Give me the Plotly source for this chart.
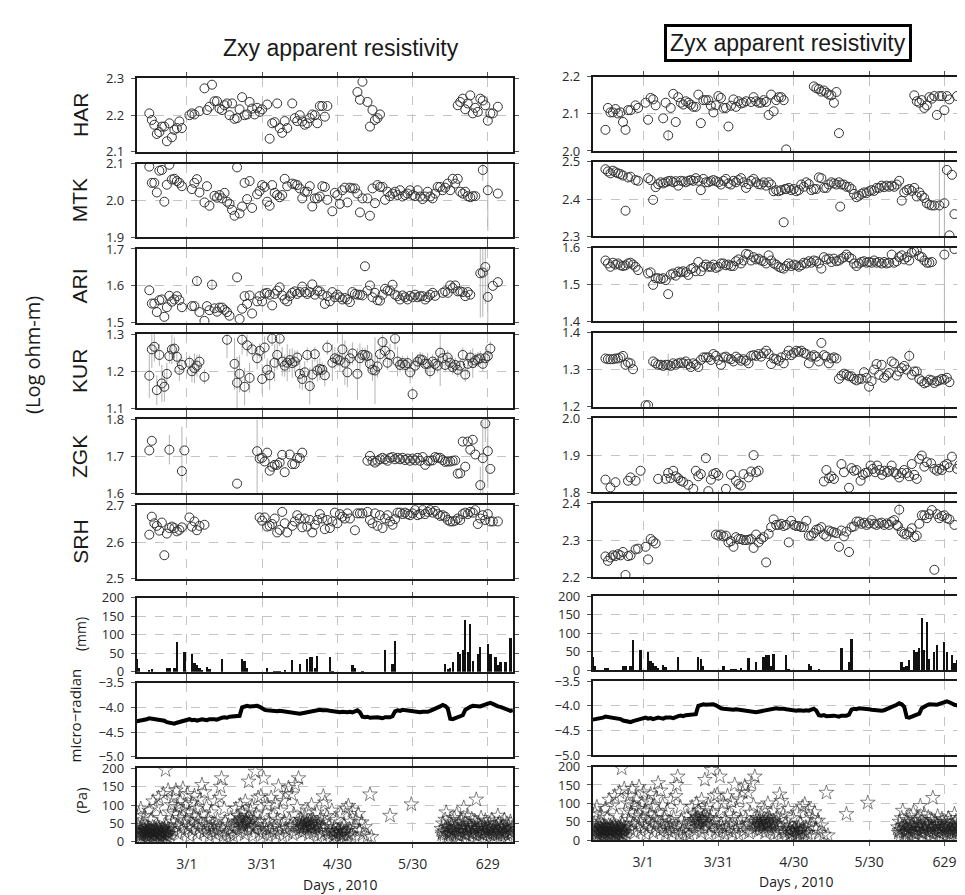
import plotly.graph_objects as go

# ---------------- DATA ----------------
tick_days = [60, 90, 120, 150, 180]
tick_text = ["3/1", "3/31", "4/30", "5/30", "629"]
stations = ["HAR", "MTK", "ARI", "KUR", "ZGK", "SRH"]

# Zxy apparent resistivity (day of year, log ohm-m, error)
zxy_har = [(45,2.205),(46,2.187),(47,2.174),(48,2.149),(49,2.154),(50,2.169),(51,2.169),(52,2.129),(53,2.178),(54,2.140),(55,2.160),(56,2.165),(57,2.183),(58,2.165),(61,2.200),(62,2.205),(63,2.202),(65,2.211),(67,2.273),(68,2.214),(69,2.223),(70,2.283),(71,2.238),(72,2.238),(73,2.218),(74,2.214),(75,2.227),(76,2.232),(77,2.200),(78,2.232),(79,2.190),(80,2.192),(81,2.216),(82,2.249),(83,2.200),(84,2.202),(85,2.236),(86,2.218),(87,2.202),(88,2.220),(89,2.209),(90,2.216),(92,2.229),(93,2.136),(94,2.178),(95,2.181),(96,2.232),(97,2.165),(98,2.152),(99,2.184),(100,2.165),(102,2.232),(103,2.192),(104,2.184),(105,2.200),(106,2.183),(107,2.174),(108,2.178),(109,2.192),(110,2.202),(111,2.200),(112,2.178),(113,2.225),(114,2.225),(115,2.196),(116,2.225),(128,2.263),(129,2.242),(130,2.291),(132,2.236),(133,2.169),(134,2.214),(135,2.187),(136,2.192),(137,2.202),(168,2.227),(169,2.236),(170,2.245),(171,2.216),(172,2.232),(173,2.254),(174,2.205),(175,2.220),(176,2.209),(177,2.245),(178,2.240),(179,2.227),(180,2.185),(181,2.205),(182,2.205),(184,2.223)]
zxy_mtk = [(45,2.092),(46,2.048),(47,2.048),(48,2.022),(49,2.081),(50,2.083),(51,1.997),(52,2.043),(53,2.097),(54,2.057),(55,2.059),(56,2.053),(57,2.048),(58,2.039),(62,2.031),(63,2.048),(64,2.058),(65,2.022),(67,1.995),(68,2.039),(69,1.986),(71,2.013),(72,2.008),(73,2.015),(74,2.006),(75,2.021),(76,1.997),(77,1.991),(78,1.975),(79,1.959),(80,2.090),(81,1.965),(82,1.984),(83,2.048),(84,2.004),(85,2.053),(86,1.980),(88,2.017),(89,2.026),(90,2.042),(91,2.037),(92,1.997),(93,1.986),(94,2.042),(95,2.021),(96,2.015),(97,2.009),(98,2.015),(99,2.059),(100,2.039),(102,2.046),(103,2.044),(104,2.042),(105,2.033),(106,2.006),(107,2.024),(108,2.024),(109,2.039),(110,1.984),(111,2.006),(112,2.006),(113,2.011),(114,2.039),(115,2.037),(116,2.002),(118,1.971),(119,2.021),(120,2.015),(121,1.991),(122,2.028),(123,2.035),(124,1.995),(125,2.035),(126,2.033),(127,2.033),(128,2.019),(129,1.968),(130,2.006),(132,2.006),(133,1.959),(134,2.033),(135,1.993),(136,2.042),(137,2.037),(138,2.037),(139,2.002),(140,2.024),(141,2.012),(142,2.019),(143,2.024),(144,2.015),(145,2.028),(146,2.011),(147,2.015),(148,2.019),(149,2.028),(150,2.015),(151,2.012),(152,2.028),(153,2.011),(154,2.004),(155,2.011),(156,2.024),(157,2.011),(158,2.006),(159,2.019),(160,2.037),(161,2.037),(162,2.028),(163,2.035),(164,2.046),(165,2.028),(166,2.059),(167,2.046),(168,2.059),(169,2.024),(170,2.019),(171,2.024),(172,2.012),(173,2.009),(174,2.012),(175,2.012),(178,2.083,0.03),(180,2.028,0.11),(184,2.019)]
zxy_ari = [(45,1.588),(46,1.552),(47,1.552),(48,1.529),(49,1.561),(50,1.563),(51,1.516),(52,1.542),(53,1.573),(54,1.557),(55,1.563),(56,1.572),(57,1.561),(58,1.542),(62,1.545),(63,1.545),(64,1.613,0.012),(65,1.529),(67,1.505),(68,1.545),(69,1.534),(70,1.603,0.015),(71,1.539),(72,1.530),(73,1.541),(74,1.541),(75,1.535),(76,1.529),(77,1.519),(80,1.623),(81,1.510),(82,1.538),(83,1.572),(84,1.551),(85,1.574),(86,1.525),(88,1.558),(89,1.572),(90,1.558),(91,1.579),(92,1.581),(93,1.576),(94,1.547),(95,1.578),(96,1.587),(97,1.596),(98,1.574),(99,1.563),(100,1.558),(101,1.572),(102,1.581),(103,1.585),(104,1.578),(105,1.583),(106,1.598),(107,1.583),(108,1.578),(109,1.583),(110,1.604),(111,1.576),(112,1.587),(113,1.585),(114,1.576),(115,1.551),(116,1.572),(117,1.558),(118,1.583),(119,1.569),(120,1.576),(121,1.569),(122,1.563),(123,1.567),(124,1.563),(125,1.556),(126,1.583),(127,1.578),(128,1.576),(129,1.576),(130,1.574),(131,1.653),(132,1.587),(133,1.601),(134,1.569),(135,1.581),(136,1.561),(137,1.560),(138,1.576),(139,1.592),(140,1.587),(141,1.587),(142,1.603),(143,1.576),(144,1.572),(145,1.563),(146,1.574),(147,1.569),(148,1.563),(149,1.573),(150,1.569),(151,1.576),(152,1.569),(153,1.572),(154,1.572),(155,1.563),(156,1.569),(157,1.576),(158,1.581),(159,1.573),(162,1.581),(163,1.585),(164,1.581),(165,1.601),(166,1.594),(167,1.601),(168,1.585),(169,1.585),(170,1.583),(171,1.572),(172,1.583),(173,1.576),(177,1.634,0.12),(178,1.636,0.12),(179,1.651,0.10),(180,1.570,0.08),(182,1.600),(184,1.610)]
zxy_kur = [(45,1.188,0.06),(46,1.259,0.05),(47,1.266,0.04),(48,1.149,0.04),(49,1.244,0.03),(50,1.167,0.05),(51,1.158,0.04),(52,1.193,0.03),(53,1.241,0.02),(54,1.259,0.04),(55,1.261,0.03),(56,1.239,0.02),(57,1.204,0.03),(58,1.217,0.02),(61,1.223,0.02),(62,1.200,0.03),(63,1.208,0.04),(64,1.215,0.03),(65,1.226,0.02),(67,1.185,0.02),(76,1.285,0.05),(79,1.220,0.07),(80,1.169,0.07),(81,1.193,0.05),(82,1.285,0.04),(83,1.158,0.05),(84,1.270,0.03),(85,1.182,0.04),(86,1.259,0.02),(88,1.235,0.03),(89,1.255,0.02),(90,1.179,0.04),(91,1.264,0.03),(92,1.204,0.03),(93,1.189,0.04),(94,1.288,0.02),(95,1.223,0.05),(96,1.244,0.04),(97,1.288,0.02),(98,1.226,0.04),(99,1.215,0.03),(100,1.223,0.05),(101,1.230,0.03),(102,1.222,0.04),(103,1.226,0.03),(104,1.237,0.02),(105,1.193,0.04),(106,1.179,0.03),(107,1.197,0.03),(108,1.244,0.02),(109,1.160,0.05),(110,1.191,0.04),(111,1.246,0.02),(112,1.202,0.03),(113,1.206,0.03),(114,1.204,0.02),(115,1.189,0.03),(116,1.264,0.02),(118,1.223,0.05),(119,1.235,0.03),(120,1.232,0.02),(121,1.229,0.03),(122,1.259,0.05),(123,1.223,0.06),(124,1.197,0.04),(125,1.235,0.02),(126,1.248,0.03),(128,1.193,0.07),(129,1.235,0.04),(130,1.244,0.02),(131,1.244,0.02),(132,1.241,0.03),(133,1.220,0.02),(134,1.204,0.03),(135,1.202,0.09),(136,1.213,0.03),(137,1.246,0.02),(138,1.279,0.02),(139,1.255,0.03),(140,1.223,0.02),(141,1.244,0.03),(143,1.288,0.03),(144,1.226,0.04),(145,1.217,0.02),(146,1.222,0.02),(147,1.217,0.02),(148,1.222,0.02),(149,1.197,0.03),(150,1.138,0.02),(151,1.215,0.02),(152,1.226,0.02),(153,1.232,0.02),(154,1.230,0.02),(155,1.220,0.02),(156,1.220,0.03),(157,1.200,0.02),(158,1.226,0.02),(159,1.220,0.02),(160,1.215,0.02),(161,1.250,0.09),(162,1.235,0.02),(163,1.217,0.02),(164,1.237,0.02),(165,1.223,0.02),(166,1.211,0.02),(167,1.217,0.02),(168,1.204,0.02),(169,1.215,0.02),(170,1.244,0.02),(171,1.191,0.02),(172,1.220,0.03),(173,1.237,0.02),(174,1.222,0.04),(175,1.229,0.02),(176,1.232,0.02),(177,1.235,0.02),(178,1.220,0.02),(179,1.235,0.02),(180,1.241,0.02),(181,1.261,0.02)]
zxy_zgk = [(45,1.716),(46,1.742),(53,1.718,0.04),(58,1.660,0.12),(59,1.716),(80,1.626),(88,1.714,0.13),(89,1.694),(90,1.696),(91,1.686),(92,1.710),(93,1.661),(94,1.672),(95,1.677),(96,1.677),(97,1.683),(98,1.704),(99,1.657),(101,1.705),(102,1.679),(103,1.679),(104,1.696),(105,1.695),(106,1.710),(132,1.688),(133,1.701),(134,1.688),(135,1.683),(136,1.688),(137,1.692),(138,1.696),(139,1.692),(140,1.688),(141,1.696),(142,1.698),(143,1.692),(144,1.696),(145,1.692),(146,1.696),(147,1.690),(148,1.694),(149,1.688),(150,1.694),(151,1.689),(152,1.696),(153,1.688),(154,1.698),(155,1.677),(156,1.688),(157,1.688),(158,1.689),(159,1.698),(160,1.696),(161,1.696),(162,1.690),(163,1.685),(164,1.686),(165,1.686),(166,1.688),(167,1.689),(168,1.653),(169,1.654),(170,1.740),(171,1.672),(172,1.740),(173,1.718),(174,1.745),(175,1.705),(177,1.622,0.05),(178,1.695,0.10),(179,1.789,0.05),(180,1.714,0.10),(181,1.666)]
zxy_srh = [(45,2.620),(46,2.669),(47,2.651),(48,2.644),(49,2.631),(50,2.653),(51,2.564),(52,2.623),(53,2.638),(54,2.642),(55,2.638),(56,2.629),(57,2.633),(58,2.640),(61,2.667),(62,2.642),(63,2.656),(64,2.632),(65,2.644),(67,2.647),(89,2.667),(90,2.658),(91,2.667),(92,2.642),(93,2.644),(94,2.649),(95,2.664),(96,2.626),(97,2.633),(98,2.682),(99,2.651),(100,2.626),(102,2.644),(103,2.656),(104,2.673),(105,2.664),(106,2.640),(107,2.664),(108,2.642),(109,2.660),(110,2.626),(111,2.647),(112,2.660),(113,2.676),(114,2.664),(115,2.635),(116,2.660),(117,2.638),(118,2.656),(119,2.680),(120,2.651),(121,2.676),(122,2.669),(123,2.664),(124,2.678),(125,2.664),(127,2.632),(128,2.678),(129,2.678),(130,2.678),(132,2.682),(133,2.660),(134,2.651),(135,2.678),(136,2.644),(137,2.673),(138,2.638),(139,2.664),(140,2.673),(141,2.656),(142,2.647),(143,2.662),(144,2.680),(145,2.680),(146,2.676),(147,2.680),(148,2.676),(149,2.673),(150,2.678),(151,2.687),(152,2.673),(153,2.676),(154,2.687),(155,2.676),(156,2.682),(157,2.687),(158,2.680),(159,2.685),(160,2.676),(161,2.671),(162,2.673),(163,2.669),(164,2.660),(165,2.656),(166,2.656),(167,2.658),(168,2.664),(169,2.660),(170,2.676),(171,2.680),(172,2.676),(173,2.682),(174,2.680),(175,2.687),(176,2.649),(177,2.664),(178,2.673),(179,2.660),(180,2.676),(181,2.656),(182,2.656),(184,2.656)]

# Zyx apparent resistivity
zyx_har = [(45,2.057),(46,2.116),(47,2.104),(48,2.104),(49,2.113),(50,2.101),(51,2.104),(52,2.078),(53,2.057),(54,2.110),(55,2.110),(57,2.123),(58,2.116),(61,2.130),(62,2.084),(63,2.143),(64,2.139),(65,2.123),(68,2.088),(69,2.130),(70,2.042,0.015),(71,2.116),(72,2.154),(73,2.078),(74,2.145),(75,2.130),(76,2.125),(77,2.134),(78,2.130),(79,2.125),(80,2.119),(81,2.119),(82,2.152),(83,2.075),(84,2.137),(85,2.137),(86,2.137),(87,2.122),(88,2.104),(89,2.123),(90,2.148),(91,2.143),(92,2.116),(93,2.116),(94,2.066),(95,2.122),(96,2.139),(97,2.119),(98,2.134),(99,2.128),(100,2.130),(101,2.134),(103,2.132),(104,2.145),(105,2.134),(106,2.130),(107,2.130),(108,2.137),(109,2.132),(110,2.097),(111,2.152),(112,2.107),(113,2.137),(114,2.145),(115,2.145),(116,2.137),(117,2.004),(128,2.174),(129,2.169),(130,2.167),(131,2.160),(132,2.163),(133,2.157),(134,2.152),(135,2.150),(136,2.130),(137,2.159),(138,2.048),(168,2.150),(169,2.134),(170,2.130),(171,2.137),(172,2.116),(173,2.123),(174,2.145),(175,2.141),(176,2.148),(177,2.097),(178,2.148),(179,2.148),(180,2.110),(181,2.148),(182,2.139),(185,2.148)]
zyx_mtk = [(45,2.480),(46,2.474),(47,2.469),(48,2.476),(49,2.472),(50,2.469),(51,2.467),(52,2.463),(53,2.369),(54,2.458),(55,2.460),(57,2.451),(58,2.449),(62,2.456),(63,2.451),(64,2.398),(65,2.432),(66,2.440),(67,2.445),(68,2.442),(69,2.445),(70,2.448),(71,2.449),(72,2.445),(73,2.448),(74,2.436),(75,2.449),(76,2.448),(77,2.445),(78,2.449),(79,2.451),(80,2.449),(81,2.456),(82,2.449),(83,2.424),(84,2.454),(85,2.445),(86,2.445),(87,2.448),(88,2.451),(89,2.448),(90,2.445),(91,2.439),(92,2.449),(93,2.454),(94,2.442),(95,2.439),(96,2.449),(97,2.445),(98,2.451),(99,2.456),(100,2.445),(101,2.430),(102,2.440),(103,2.449),(104,2.454),(105,2.445),(106,2.440),(107,2.439),(108,2.445),(109,2.436),(110,2.445),(111,2.439),(112,2.421),(113,2.424),(114,2.421),(115,2.424),(116,2.338),(116.5,2.427),(117,2.427),(118,2.430),(119,2.424),(120,2.427),(121,2.421),(122,2.424),(123,2.439),(124,2.433),(125,2.445),(126,2.440),(127,2.424),(128,2.427),(129,2.427),(130,2.458),(131,2.456),(132,2.430),(133,2.430),(134,2.439),(135,2.445),(136,2.442),(137,2.439),(138,2.445),(138.5,2.380),(139,2.439),(140,2.439),(141,2.433),(142,2.433),(143,2.427),(144,2.414),(145,2.405),(146,2.409),(147,2.414),(148,2.418),(149,2.416),(150,2.421),(151,2.424),(152,2.422),(153,2.430),(154,2.430),(155,2.436),(156,2.432),(157,2.436),(158,2.433),(159,2.436),(160,2.433),(161,2.439),(162,2.449),(163,2.396),(164,2.418),(165,2.424),(166,2.427),(167,2.422),(168,2.430),(169,2.407),(170,2.418),(171,2.409),(172,2.403),(173,2.389),(174,2.385),(175,2.383),(176,2.383),(178,2.383,0.15),(180,2.389,0.15),(181,2.478),(182,2.303),(183,2.465),(184,2.360)]
zyx_ari = [(45,1.565),(46,1.557),(47,1.548),(48,1.559),(49,1.554),(50,1.557),(51,1.552),(52,1.550),(53,1.552),(54,1.557),(55,1.559),(56,1.554),(57,1.548),(58,1.539),(62,1.530),(63,1.533),(64,1.499),(65,1.517),(66,1.517),(67,1.515),(68,1.517),(69,1.512),(70,1.474),(71,1.527),(72,1.530),(73,1.524),(74,1.535),(75,1.533),(76,1.536),(77,1.533),(78,1.526),(79,1.542),(80,1.545),(81,1.536),(82,1.561),(83,1.536),(84,1.548),(85,1.554),(86,1.548),(87,1.548),(88,1.554),(89,1.545),(90,1.548),(91,1.557),(92,1.557),(93,1.552),(94,1.554),(95,1.550),(96,1.550),(97,1.563),(98,1.568),(99,1.557),(100,1.565),(101,1.583),(102,1.581),(103,1.565),(104,1.574),(105,1.568),(106,1.570),(107,1.565),(108,1.563),(109,1.557),(110,1.579),(111,1.565),(112,1.557),(113,1.554),(114,1.548),(115,1.545),(116,1.543),(117,1.550),(118,1.557),(119,1.550),(120,1.554),(121,1.552),(122,1.548),(123,1.552),(124,1.559),(125,1.557),(126,1.563),(127,1.559),(128,1.565),(129,1.563),(130,1.557),(131,1.543),(132,1.574),(133,1.568),(134,1.570),(135,1.561),(136,1.570),(137,1.563),(138,1.565),(139,1.570),(140,1.574),(141,1.581),(142,1.574),(143,1.570),(144,1.557),(145,1.550),(146,1.557),(147,1.561),(148,1.563),(149,1.559),(150,1.561),(151,1.559),(152,1.565),(153,1.559),(154,1.561),(155,1.557),(156,1.561),(157,1.557),(158,1.559),(159,1.581),(160,1.559),(161,1.563),(162,1.574),(163,1.579),(164,1.568),(165,1.574),(166,1.565),(167,1.586),(168,1.589),(169,1.592),(170,1.577),(171,1.574),(172,1.565),(173,1.559),(174,1.559),(175,1.561),(180,1.581,0.20),(184,1.596)]
zyx_kur = [(45,1.330),(46,1.328),(47,1.328),(48,1.328),(49,1.330),(50,1.330),(51,1.333),(52,1.337),(53,1.313),(54,1.319),(55,1.317),(56,1.301),(61,1.204),(62,1.204),(64,1.322),(65,1.317),(66,1.313),(67,1.313),(68,1.310),(69,1.313),(70,1.313,0.03),(71,1.310),(72,1.317),(73,1.313),(74,1.317),(75,1.319),(76,1.317),(77,1.322),(78,1.315),(79,1.307),(80,1.317),(81,1.313),(82,1.307),(83,1.326),(84,1.333),(85,1.333),(86,1.333),(87,1.326),(88,1.342),(89,1.337),(90,1.326),(91,1.313),(92,1.333),(93,1.335),(94,1.330),(95,1.328),(96,1.322),(97,1.335),(98,1.330),(99,1.324),(100,1.328),(101,1.324),(102,1.317),(103,1.337),(104,1.339),(105,1.337),(106,1.342),(107,1.335),(108,1.344),(109,1.351),(110,1.342),(111,1.315),(112,1.330),(113,1.328),(114,1.324),(115,1.333),(116,1.317),(117,1.339),(118,1.351),(119,1.339),(120,1.345),(121,1.351),(122,1.348),(123,1.351),(124,1.345),(125,1.342),(126,1.317),(127,1.335),(128,1.339),(129,1.335),(130,1.322),(131,1.372),(132,1.339),(133,1.335),(134,1.317),(135,1.330),(136,1.333),(137,1.330),(138,1.275),(139,1.284),(140,1.289),(141,1.286),(142,1.282),(143,1.282),(144,1.275),(145,1.271),(146,1.275),(147,1.275),(148,1.293),(149,1.278),(150,1.254),(151,1.269),(152,1.300),(153,1.315),(154,1.286),(155,1.313),(156,1.278),(157,1.284),(158,1.291),(159,1.322),(160,1.317),(161,1.284),(162,1.295),(163,1.304),(164,1.310),(165,1.300),(166,1.337,0.02),(167,1.286),(168,1.295),(169,1.295),(170,1.275),(171,1.269),(172,1.263),(173,1.266),(174,1.273),(175,1.271),(176,1.264),(177,1.269),(178,1.271),(179,1.275),(180,1.273),(181,1.278),(182,1.266)]
zyx_zgk = [(45,1.834),(47,1.813),(49,1.827),(54,1.831),(55,1.840),(57,1.831),(59,1.858),(66,1.836),(69,1.836),(70,1.852),(71,1.838),(72,1.858),(73,1.843),(74,1.838),(75,1.831),(76,1.828),(78,1.820),(80,1.809),(81,1.858),(82,1.843),(83,1.849),(85,1.892),(86,1.803),(87,1.834),(88,1.849),(89,1.852),(90,1.845),(93,1.809),(95,1.847),(97,1.831),(98,1.822),(99,1.818),(100,1.849),(102,1.840),(103,1.856),(104,1.900),(105,1.854),(106,1.858),(132,1.829),(133,1.860),(134,1.838),(135,1.843),(136,1.836),(139,1.876),(140,1.854),(142,1.812),(143,1.865),(144,1.858),(145,1.860),(146.6,1.831),(147.5,1.847),(148.5,1.852),(149.5,1.854),(150.6,1.872),(151.5,1.863),(152.4,1.854),(153.2,1.872),(154.2,1.860),(155.2,1.847),(156.1,1.858),(157.2,1.854),(158.1,1.858),(159,1.872),(160,1.854),(161,1.849),(162,1.840),(163,1.852),(164,1.860),(165,1.852),(166,1.843),(167,1.876),(168,1.847),(169,1.836),(170,1.890),(171,1.899),(172,1.869),(173,1.881),(174.7,1.878),(176,1.863),(177,1.858),(178,1.863),(179,1.860),(180,1.872),(181,1.876),(182,1.867),(183,1.896),(185,1.863),(186,1.874)]
zyx_srh = [(45,2.256),(46,2.244),(47,2.253),(48,2.259),(49,2.257),(50,2.262),(51,2.259),(52,2.268),(53,2.206),(54,2.257),(55,2.259),(57,2.275),(58,2.277),(61,2.282),(62,2.248),(63,2.303),(64,2.297),(65,2.291),(89,2.315),(90,2.312),(91,2.315),(92,2.310),(93,2.312),(94,2.294),(95,2.297),(96,2.282),(97,2.308),(98,2.303),(99,2.303),(100,2.300),(101,2.300),(102,2.301),(103,2.303),(104,2.279),(105,2.315),(106,2.294),(107,2.303),(108,2.308),(109,2.240),(110,2.317),(111,2.335),(112,2.356),(113,2.341),(114,2.341),(115,2.344),(116,2.338),(117,2.341),(118,2.294),(119,2.352),(120,2.341),(121,2.338),(122,2.338),(123,2.335),(124,2.335),(125,2.352),(126,2.312),(127,2.312),(128,2.319),(129,2.328),(130,2.330),(131,2.335),(132,2.315),(133,2.310),(134,2.326),(135,2.323),(136,2.321),(137,2.319),(138,2.282),(139,2.326),(140,2.310),(141,2.323),(142,2.268),(143,2.335),(144,2.337),(145,2.350),(146,2.350),(147,2.344),(148,2.347),(149,2.341),(150,2.345),(151,2.354),(152,2.344),(153,2.341),(154,2.345),(155,2.347),(156,2.341),(157,2.345),(158,2.341),(159,2.350),(160,2.354),(161,2.341),(161.5,2.338),(162,2.382,0.02),(163,2.323),(164,2.317),(165,2.315),(166,2.321),(167,2.332),(168,2.308),(169,2.312),(170,2.344),(171,2.367),(172,2.367),(173,2.359),(174,2.370),(175,2.381),(176,2.220),(177,2.370),(178,2.359),(179,2.365),(180,2.367),(181,2.359),(182,2.356),(184,2.341)]

# Rainfall (mm per day)
rain = [(40,35),(41,10),(45,5),(46,7),(52,10),(53,10),(55,12),(56,82),(59,55),(62,50),(63,25),(64,20),(65,10),(66,5),(68,15),(69,8),(74,35),(82,35),(83,30),(84,10),(92,10),(95,3),(96,4),(97,3),(99,5),(102,32),(105,22),(108,35),(109,40),(110,42),(111,10),(112,43),(117,40),(118,3),(126,18),(127,10),(130,3),(139,60),(142,22),(143,85),(163,22),(164,8),(165,12),(166,28),(168,55),(169,50),(170,60),(171,140),(172,55),(173,130),(174,30),(176,50),(177,68),(180,75),(181,50),(183,40),(184,20),(185,28),(187,28),(189,92)]

# Tilt (micro-radian), daily from day 40 to day 190
tilt_start = 40
tilt = [-4.28,-4.27,-4.28,-4.26,-4.24,-4.22,-4.23,-4.22,-4.25,-4.24,-4.25,-4.27,-4.30,-4.31,-4.32,-4.33,-4.31,-4.30,-4.28,-4.26,
        -4.25,-4.24,-4.26,-4.25,-4.27,-4.25,-4.24,-4.25,-4.26,-4.24,-4.23,-4.24,-4.25,-4.22,-4.21,-4.20,-4.21,-4.19,-4.18,-4.18,
        -4.17,-4.17,-4.00,-3.98,-3.97,-3.98,-3.97,-3.98,-3.97,-3.99,-4.03,-4.05,-4.06,-4.07,-4.06,-4.07,-4.08,-4.07,-4.08,-4.09,
        -4.10,-4.11,-4.12,-4.13,-4.12,-4.13,-4.12,-4.11,-4.09,-4.07,-4.06,-4.07,-4.06,-4.05,-4.06,-4.05,-4.06,-4.07,-4.08,-4.09,
        -4.09,-4.10,-4.09,-4.10,-4.10,-4.09,-4.10,-4.08,-4.06,-4.10,-4.19,-4.20,-4.19,-4.21,-4.20,-4.21,-4.20,-4.21,-4.22,-4.20,
        -4.21,-4.20,-4.18,-4.08,-4.06,-4.07,-4.05,-4.06,-4.07,-4.06,-4.07,-4.08,-4.09,-4.10,-4.09,-4.10,-4.09,-4.07,-4.05,-4.04,
        -4.02,-3.98,-3.95,-3.97,-4.02,-4.23,-4.24,-4.22,-4.20,-4.18,-4.16,-4.05,-4.01,-3.99,-3.97,-3.98,-3.97,-3.98,-3.96,-3.95,
        -3.93,-3.91,-3.93,-3.96,-3.98,-3.99,-4.01,-4.03,-4.05,-4.07,-4.06]

# Pressure (Pa) observations (day, Pa)
pa_obs = [(40.2,30),(40.5,45),(40.8,75),(41.0,20),(41.3,35),(41.6,90),(41.8,15),(42.1,28),(42.4,50),(42.7,22),(43.0,32),(43.2,70),(43.5,18),(43.8,27),(44.0,40),(44.3,12),(44.6,30),(44.9,85),(45.1,22),(45.4,35),(45.7,60),(46.0,18),(46.2,28),(46.5,110),(46.8,25),(47.0,38),(47.3,15),(47.6,30),(47.9,95),(48.1,22),(48.4,42),(48.7,120),(49.0,18),(49.2,30),(49.5,65),(49.8,25),(50.1,12),(50.3,35),(50.6,130),(50.9,20),(51.2,28),(51.5,195),(51.7,45),(52.0,15),(52.2,32),(52.5,140),(52.8,22),(53.0,80),(53.3,10),(53.6,40),(53.9,100),
          (54.2,55),(54.5,120),(54.9,30),(55.2,75),(55.6,140),(56.0,45),(56.3,95),(56.7,20),(57.0,65),(57.4,110),(57.7,35),(58.0,85),(58.4,145),(58.8,50),(59.1,25),(59.5,100),(59.8,60),(60.2,130),(60.5,40),(60.9,80),(61.2,15),(61.6,55),(62.0,105),(62.3,30),(62.7,70),(63.0,125),(63.4,45),(63.8,90),(64.1,20),(64.5,60),(64.9,35),(65.2,115),(65.6,50),(66.0,155),(66.3,75),(66.7,25),(67.0,135),(67.4,45),(67.8,95),(68.1,30),(68.5,60),(68.9,15),(69.2,40),(69.6,80),(70.0,25),(70.3,50),(70.7,35),(71.1,110),(71.4,20),(71.8,45),
          (72.2,60),(72.6,30),(73.0,120),(73.4,150),(73.8,173),(74.1,40),(74.5,15),(74.9,90),(75.3,55),(75.7,25),(76.1,10),(76.5,45),(77.0,20),(77.5,65),(78.0,35),(78.5,15),(79.0,50),(79.5,90),
          (80.0,40),(80.3,70),(80.6,25),(81.0,55),(81.3,100),(81.6,35),(82.0,60),(82.3,80),(82.6,45),(83.0,20),(83.3,110),(83.6,55),(84.0,65),(84.3,30),(84.6,164),(85.0,50),(85.3,85),(85.6,40),(86.0,95),(86.3,15),(86.7,60),(87.0,35),(87.3,191),(87.7,75),(88.0,45),(88.4,120),(88.8,25),(89.1,55),(89.5,124),(89.9,35),
          (90.3,20),(90.6,173),(91.0,45),(91.3,80),(91.7,30),(92.0,100),(92.4,15),(92.8,55),(93.2,35),(93.6,120),(94.0,25),(94.4,70),(94.8,40),(95.2,105),(95.6,20),(96.0,60),(96.5,151),(96.9,30),(97.3,85),(97.7,45),(98.1,15),(98.5,111),(98.9,55),(99.3,35),(99.7,130),(100.1,25),(100.5,147),(100.9,60),(101.3,40),(101.8,129),(102.2,20),(102.6,75),(103.0,45),(103.2,155),(103.6,30),(104.0,95),(104.5,173),
          (104.8,50),(105.1,35),(105.4,60),(105.7,40),(106.0,25),(106.3,55),(106.6,45),(107.0,70),(107.3,30),(107.6,50),(108.0,40),(108.3,85),(108.6,20),(109.0,55),(109.3,45),(109.7,100),(110.0,35),(110.3,60),(110.7,25),(111.0,50),(111.4,40),(111.8,80),(112.1,15),(112.5,45),(112.9,30),(113.3,65),(113.7,20),(114.0,40),(114.4,124),(114.8,55),(115.0,107),(115.4,30),(115.8,70),
          (116.2,20),(116.6,45),(117.0,10),(117.4,30),(117.8,85),(118.2,25),(118.6,15),(119.0,40),(119.4,20),(119.8,60),(120.2,30),(120.6,12),(121.0,25),(121.4,75),(121.8,35),(122.2,18),(122.6,45),(123.0,28),(123.4,90),(123.8,15),(124.4,98),(124.8,35),(125.2,55),(125.6,20),(126.0,85),(126.5,40),(127.0,10),(127.5,60),(128.3,76),(128.8,30),(129.7,53),(130.2,20),(131.0,40),(132.0,15),(133.0,129),(133.6,13),
          (141.0,71),(149.5,102),
          (161.5,35),(161.8,20),(162.1,50),(162.4,10),(162.7,28),(163.0,60),(163.4,80),(163.7,22),(164.0,40),(164.3,15),(164.6,33),(165.0,55),(165.3,25),(165.6,45),(166.0,12),(166.3,30),(166.6,65),(167.0,20),(167.3,40),(167.6,75),(168.0,28),(168.3,50),(168.6,15),(169.0,35),(169.3,60),(169.6,22),(170.0,45),(170.4,93),(170.7,30),(171.0,55),(171.3,18),(171.6,38),(172.0,70),(172.3,25),(172.6,48),(173.0,12),(173.3,35),(173.6,62),(174.0,20),(174.3,42),(174.6,28),(175.0,55),(175.4,115),(175.7,15),(176.0,35),(176.3,50),(176.6,22),(177.0,40),(177.3,65),(177.6,30),(178.0,18),(178.3,45),(178.6,25),(179.0,58),(179.3,35),(179.6,12),(180.0,42),(180.3,28),(180.6,50),(181.0,20),(181.3,38),(181.6,60),(182.0,15),(182.3,32),(182.6,48),(183.0,25),(183.4,40),(183.7,18),(184.0,71),(184.3,30),(184.6,52),(185.0,22),(185.3,38),(185.6,12),(186.0,45),(186.3,28),(186.6,60),(187.0,20),(187.3,35),(187.6,50),(188.0,15),(188.3,42),(188.6,28),(189.0,55),(189.4,22),(189.7,38)]
pa_dense = [(41.1,25),(41.4,18),(41.9,32),(42.3,12),(42.6,38),(42.9,20),(43.3,28),(43.7,8),(44.1,24),(44.5,36),(44.8,16),(45.2,30),(45.5,10),(45.9,26),(46.3,40),(46.6,14),(47.1,22),(47.5,34),(47.8,8),(48.2,28),(48.6,18),(48.9,38),(49.3,12),(49.7,24),(50.0,32),(50.4,20),(50.8,8),(51.1,36),(51.4,16),(51.9,26),(52.3,22),(52.7,34),
            (80.5,55),(81.5,62),(82.5,50),(83.5,58),(84.5,48),(85.5,60),(82.0,45),
            (105.0,45),(106.0,50),(107.0,42),(108.0,55),(109.0,38),(110.0,48),(111.0,42),(112.0,52),(106.5,38),(109.5,46),
            (118.5,28),(119.5,22),(120.5,32),(121.5,18),(122.5,26),(123.5,30),(124.5,20),
            (162.0,25),(163.2,38),(164.5,22),(165.5,30),(166.8,40),(167.8,18),(168.8,28),(169.8,38),(170.8,20),(171.8,30),(172.8,42),(173.8,24),(174.8,36),(175.8,26),(176.8,44),(177.8,20),(178.8,32),(179.8,24),(180.8,36),(181.8,28),(182.8,20),(183.8,34),(184.8,26),(185.8,40),(186.8,24),(187.8,32),(188.8,20),(189.6,30)]

zxy_ranges = [(2.1, 2.3), (1.9, 2.1), (1.5, 1.7), (1.1, 1.3), (1.6, 1.8), (2.5, 2.7)]
zyx_ranges = [(2.0, 2.2), (2.3, 2.5), (1.4, 1.6), (1.2, 1.4), (1.8, 2.0), (2.2, 2.4)]

# ---------------- LAYOUT GEOMETRY (pixels) ----------------
W, H = 965, 895
left_x = (129.3, 507.0)
right_x = (587.3, 963.0)
left_rows = [(62.7,137.7),(149.7,225),(236.7,312),(323.7,399.3),(410.7,486),(498.3,573.3),(592.7,668.3),(679.3,755),(766.7,841.7)]
right_rows = [(61,136.7),(147.7,224),(235.3,310.7),(322,397.7),(409.3,485),(496,571.7),(591,666.7),(677.7,753.3),(765,840)]
left_xrange = [40, 190]
right_xrange = [40, 189]

def xd(a, b):
    return [a / W, b / W]

def yd(top, bot):
    return [1 - bot / H, 1 - top / H]

fig = go.Figure()
layout = {}
FONT = "Open Sans, Liberation Sans, sans-serif"
tickfont = dict(family=FONT, size=13, color="#2a2a2a")

def add_axes(n, xdom, ydom, xr, yr, dtick, fmt, bottom):
    sfx = "" if n == 1 else str(n)
    layout["xaxis" + sfx] = dict(
        domain=xdom, range=xr, anchor="y" + sfx, tickvals=tick_days, ticktext=tick_text,
        showticklabels=bottom, showgrid=True, gridcolor="#c4c4c4", griddash="dash", gridwidth=1,
        showline=True, linecolor="#1a1a1a", linewidth=2, mirror="ticks", ticks="outside",
        ticklen=4, tickcolor="#555", zeroline=False, ticklabelstandoff=4,
        tickfont=dict(family=FONT, size=14, color="#2a2a2a"), fixedrange=True)
    layout["yaxis" + sfx] = dict(
        domain=ydom, range=yr, anchor="x" + sfx, dtick=dtick, tick0=0, tickformat=fmt,
        showgrid=True, gridcolor="#c4c4c4", griddash="dash", gridwidth=1,
        showline=True, linecolor="#1a1a1a", linewidth=2, mirror="ticks", ticks="outside",
        ticklen=4, tickcolor="#555", zeroline=False, ticklabelstandoff=4,
        tickfont=tickfont, fixedrange=True)
    return "x" + sfx, "y" + sfx

def scatter(pts, xa, ya):
    xs = [p[0] for p in pts]
    ys = [p[1] for p in pts]
    es = [p[2] if len(p) > 2 else 0 for p in pts]
    return go.Scatter(x=xs, y=ys, mode="markers", xaxis=xa, yaxis=ya,
                      marker=dict(symbol="circle-open", size=9, color="#333333", line=dict(width=1)),
                      error_y=dict(type="data", array=es, visible=True, color="#b4b4b4", thickness=1, width=0),
                      showlegend=False, hoverinfo="skip")

columns = [
    (left_x, left_rows, left_xrange, [zxy_har, zxy_mtk, zxy_ari, zxy_kur, zxy_zgk, zxy_srh], zxy_ranges),
    (right_x, right_rows, right_xrange, [zyx_har, zyx_mtk, zyx_ari, zyx_kur, zyx_zgk, zyx_srh], zyx_ranges),
]

n = 0
tilt_days = [tilt_start + i for i in range(len(tilt))]
allpa = pa_obs + pa_dense
for ci, (cx, rows, xr, series, ranges) in enumerate(columns):
    for ri in range(6):
        n += 1
        xa, ya = add_axes(n, xd(*cx), yd(*rows[ri]), xr, list(ranges[ri]), 0.1, ".1f", False)
        fig.add_trace(scatter(series[ri], xa, ya))
    # rain
    n += 1
    xa, ya = add_axes(n, xd(*cx), yd(*rows[6]), xr, [0, 200], 50, "d", False)
    fig.add_trace(go.Bar(x=[r[0] for r in rain], y=[r[1] for r in rain], width=0.75,
                         marker=dict(color="#111", line=dict(width=0)), xaxis=xa, yaxis=ya,
                         showlegend=False, hoverinfo="skip"))
    # tilt
    n += 1
    xa, ya = add_axes(n, xd(*cx), yd(*rows[7]), xr, [-5.0, -3.5], 0.5, ".1f", False)
    fig.add_trace(go.Scatter(x=tilt_days, y=tilt, mode="lines", line=dict(color="black", width=4),
                             xaxis=xa, yaxis=ya, showlegend=False, hoverinfo="skip"))
    # pressure
    n += 1
    xa, ya = add_axes(n, xd(*cx), yd(*rows[8]), xr, [0, 200], 50, "d", True)
    fig.add_trace(go.Scatter(x=[p[0] for p in allpa], y=[p[1] for p in allpa], mode="markers",
                             marker=dict(symbol="star-open", size=11, color="rgba(30,30,30,0.55)", line=dict(width=1)),
                             xaxis=xa, yaxis=ya, showlegend=False, hoverinfo="skip"))

ann = []
def text(x, y, s, size, angle=0, family=FONT, color="#1a1a1a", **kw):
    d = dict(x=x / W, y=1 - y / H, xref="paper", yref="paper", text=s, showarrow=False,
             font=dict(family=family, size=size, color=color), textangle=angle,
             xanchor="center", yanchor="middle")
    d.update(kw)
    ann.append(d)

ARIAL = "Liberation Sans, Arial, sans-serif"
text(334, 32, "Zxy apparent resistivity", 23, family=ARIAL)
text(783, 27, "Zyx apparent resistivity", 23, family=ARIAL, bordercolor="black", borderwidth=3, borderpad=3, bgcolor="white")
for ri, name in enumerate(stations):
    top, bot = left_rows[ri]
    text(72, (top + bot) / 2, name, 21, angle=-90, family=ARIAL)
text(24, 345, "(Log ohm-m)", 20, angle=-90)
text(73, 630, "(mm)", 14, angle=-90)
text(67, 713, "micro\u2212radian", 15, angle=-90)
text(73, 800, "(Pa)", 15, angle=-90)
text(334, 885, "Days , 2010", 14)
text(792, 882, "Days , 2010", 14)

layout["annotations"] = ann
fig.update_layout(**layout)
fig.update_layout(width=W, height=H, margin=dict(l=0, r=0, t=0, b=0), paper_bgcolor="white",
                  plot_bgcolor="white", bargap=0, showlegend=False)
fig.write_html("out.html")
